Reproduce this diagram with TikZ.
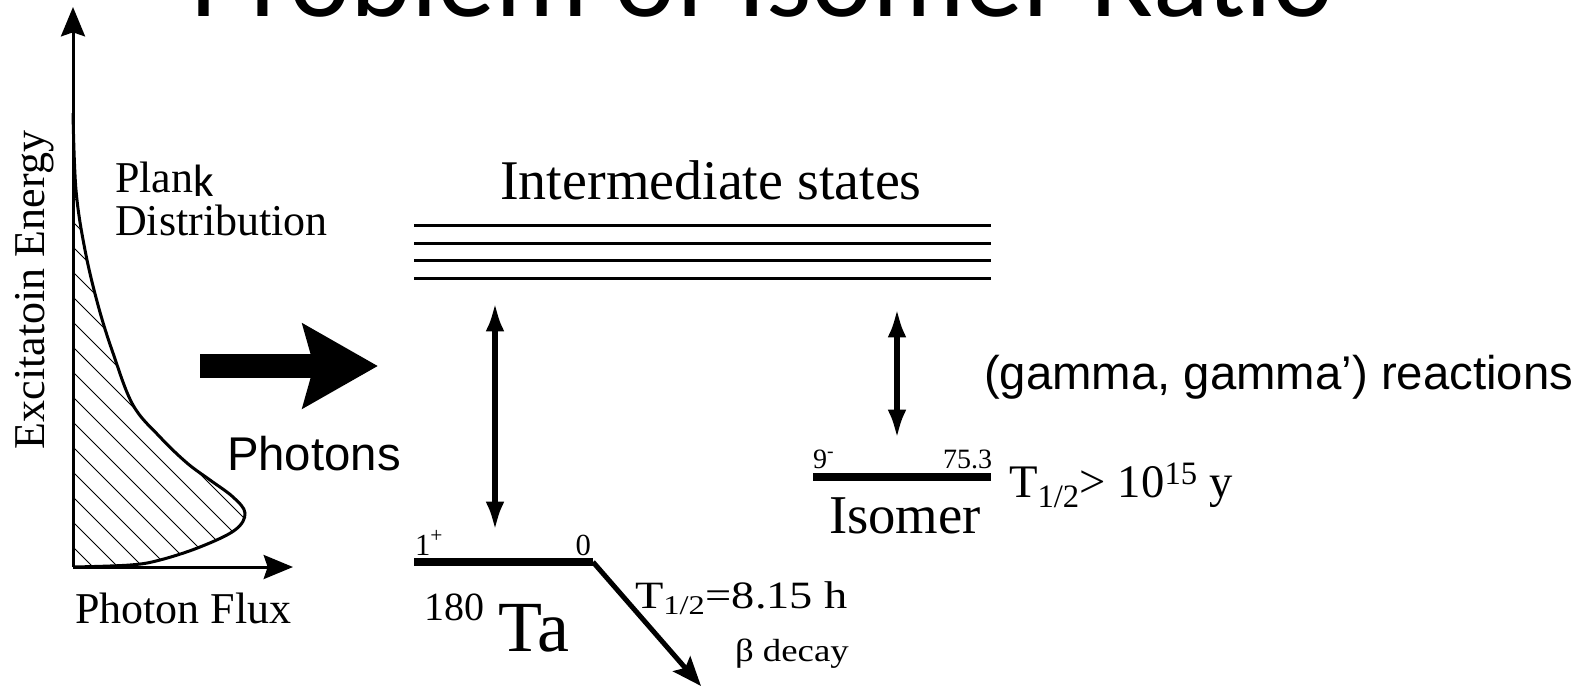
\documentclass[tikz,border=0pt]{standalone}
\usepackage{fontspec}
\setmainfont{Liberation Serif}
\newfontfamily\arialfont{Liberation Sans}
\newfontfamily\califont{Carlito}
\usetikzlibrary{arrows.meta,positioning,calc}

\begin{document}
\begin{tikzpicture}[
        x=0.75pt, y=-0.75pt,
        every node/.style={inner sep=0pt, outer sep=0pt},
        serifmid/.style={font=\fontsize{33}{38}\selectfont},
        seriflarge/.style={font=\fontsize{42}{48}\selectfont},
        serifsmall/.style={font=\fontsize{21}{24}\selectfont},
        sanslabel/.style={font=\arialfont\fontsize{35.5}{40}\selectfont},
        axis/.style={line width=2.25pt, -{Stealth[length=22pt, width=18pt, inset=3pt]}},
        curve/.style={line width=2.25pt},
        hatch/.style={line width=0.6pt},
        istate/.style={line width=2.25pt},
        level/.style={line width=6pt},
        trans/.style={line width=4.5pt, {Latex[length=22pt, width=14pt]}-{Latex[length=22pt, width=14pt]}},
        decay/.style={line width=3.75pt, -{Stealth[length=22pt, width=17pt, inset=4pt]}},
        beam/.style={line width=18pt, -{Stealth[length=56pt, width=62pt, inset=8pt]}}
    ]

    \useasboundingbox (0,0) rectangle (1594,687);
    \clip (0,0) rectangle (1594,687);

    \node[font=\califont\fontsize{87}{90}\selectfont, anchor=base] (title) at (762,16) {Problem of Isomer Ratio};

    \coordinate (origin) at (73,567);
    \coordinate (ytip) at (73,7);
    \coordinate (xtip) at (293,567);

    \begin{scope}
        \clip plot[smooth, tension=0.6] coordinates {(73,113) (76,190) (85,250) (98,305) (113,353) (133,405) (160,437) (187,463) (210,480) (233,497) (245,513) (235,530) (200,547) (160,560) (130,565) (73,567)} -- cycle;
        \foreach \k in {-5,...,16}
            \draw[hatch] (73,{197+25*\k}) -- ++(420,420);
    \end{scope}
    \draw[curve] plot[smooth, tension=0.6] coordinates {(73,113) (76,190) (85,250) (98,305) (113,353) (133,405) (160,437) (187,463) (210,480) (233,497) (245,513) (235,530) (200,547) (160,560) (130,565) (73,567)};

    \draw[axis] (origin) -- (ytip);
    \draw[axis] (origin) -- (xtip);

    \node[serifmid, rotate=90, anchor=base] (ylabel) at (44,290) {Excitatoin Energy};
    \node[serifmid, anchor=base west] (xlabel) at (75,623) {Photon Flux};
    \node[serifmid, anchor=base west] (plank) at (115,192) {Plan\raisebox{-3.5pt}{\califont\fontsize{34}{38}\selectfont k}};
    \node[serifmid, anchor=base west] (distr) at (115,235) {Distribution};

    \coordinate (beamS) at (200,366);
    \coordinate (beamE) at (378,366);
    \draw[beam] (beamS) -- (beamE);
    \node[sanslabel, anchor=base west] (photons) at (227,470) {Photons};

    \node[seriflarge, anchor=base] (inter) at (711,199) {Intermediate states};
    \foreach \y in {225,243,260,278}
        \draw[istate] (414,\y) -- (991,\y);

    \coordinate (gsL) at (414,562);
    \coordinate (gsR) at (593,562);
    \draw[level] (gsL) -- (gsR);
    \node[font=\fontsize{23}{26}\selectfont, anchor=base west] (gsspin) at (415,555) {1\textsuperscript{+}};
    \node[font=\fontsize{23}{26}\selectfont, anchor=base east] (gsen) at (591,555) {0};
    \node[font=\fontsize{54}{60}\selectfont, anchor=base west] (ta) at (498,651) {Ta};
    \node[font=\fontsize{30}{34}\selectfont, anchor=base west] (massno) at (424,620) {180};

    \coordinate (isoL) at (813,477);
    \coordinate (isoR) at (991,477);
    \draw[level] (isoL) -- (isoR);
    \node[serifsmall, anchor=base west] (isospin) at (813,468) {9\textsuperscript{-}};
    \node[serifsmall, anchor=base east] (isoen) at (992,468) {75.3};
    \node[font=\fontsize{41}{46}\selectfont, anchor=base west] (isomer) at (829,533) {Isomer};
    \node[font=\fontsize{35}{40}\selectfont, anchor=base west] (isohalf) at (1009,497) {T\textsubscript{1/2}> 10\textsuperscript{15} y};

    \coordinate (exL) at (495,302);
    \coordinate (gsT) at (495,531);
    \coordinate (exR) at (897,308);
    \coordinate (isoT) at (897,439);
    \draw[trans] (exL) -- (gsT);
    \draw[trans] (exR) -- (isoT);
    \node[sanslabel, anchor=base west] (reac) at (984,389) {(gamma, gamma’) reactions};

    \coordinate (betaend) at (701,686);
    \draw[decay] (gsR) -- (betaend);
    \node[font=\fontsize{29}{32}\selectfont, anchor=base west] (gshalf) at (635,608) {\scalebox{1.2}[1]{T\textsubscript{1/2}=8.15 h}};
    \node[font=\fontsize{24}{28}\selectfont, anchor=base west] (beta) at (735,661) {\scalebox{1.15}[1]{β decay}};

\end{tikzpicture}
\end{document}
